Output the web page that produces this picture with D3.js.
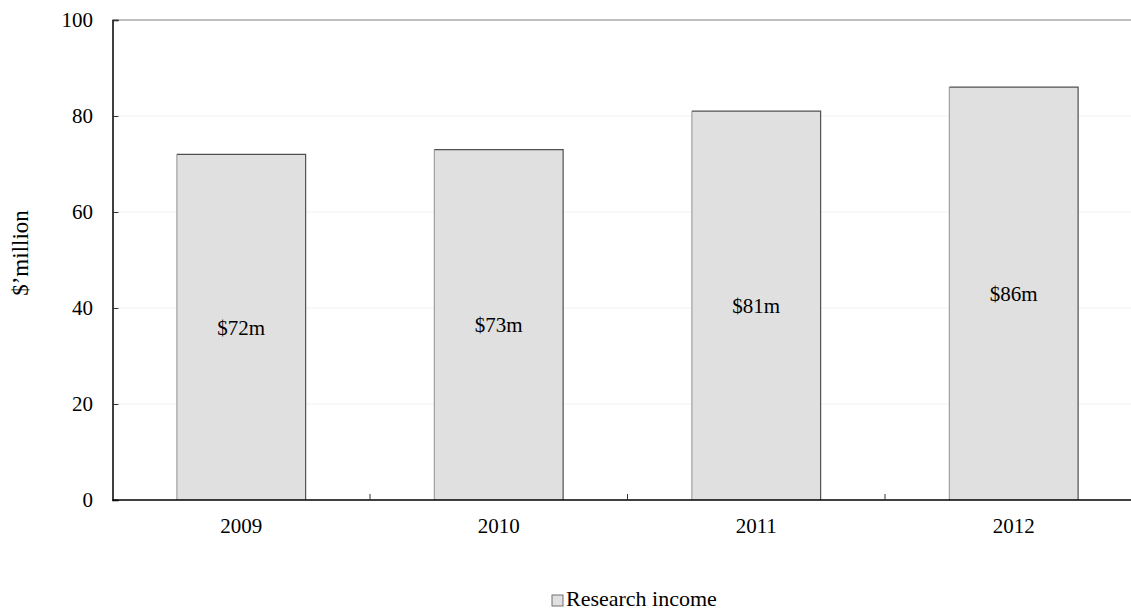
<!DOCTYPE html>
<html>
<head>
<meta charset="utf-8">
<script src="https://cdn.jsdelivr.net/npm/d3@7"></script>
<style>
  html, body { margin: 0; padding: 0; background: #fff; }
  svg { display: block; font-family: "Liberation Serif", "Times New Roman", Times, serif; }
</style>
</head>
<body>
<svg id="chart" width="1131" height="612" font-family="Liberation Serif, Times New Roman, serif"></svg>
<script>
// Research income by year, $ million
const years = ["2009", "2010", "2011", "2012"];
const income = [72, 73, 81, 86];
const valueLabels = ["$72m", "$73m", "$81m", "$86m"];
const yTicks = [0, 20, 40, 60, 80, 100];
const seriesName = "Research income";
const yTitle = "$’million";

const svg = d3.select("#chart");
const plotLeft = 112.5, plotRight = 1142.5, plotTop = 20, plotBottom = 500;

const x = d3.scaleBand().domain(years).range([plotLeft, plotRight]).paddingInner(0).paddingOuter(0);
const y = d3.scaleLinear().domain([0, 100]).range([plotBottom, plotTop]);

// faint horizontal gridlines
svg.append("g").selectAll("line")
  .data(yTicks.filter(t => t > 0 && t < 100))
  .join("line")
  .attr("x1", plotLeft).attr("x2", plotRight)
  .attr("y1", d => y(d)).attr("y2", d => y(d))
  .attr("stroke", "#f2f2f2").attr("stroke-width", 1);

// top border of plot area
svg.append("line")
  .attr("x1", plotLeft).attr("x2", plotRight)
  .attr("y1", y(100)).attr("y2", y(100))
  .attr("stroke", "#a8a8a8").attr("stroke-width", 1.5);

// bars: half the band width, centred
const barW = x.bandwidth() / 2;
const bars = svg.append("g").selectAll("g")
  .data(years.map((yr, i) => ({ yr, v: income[i], label: valueLabels[i] })))
  .join("g");

bars.append("rect")
  .attr("x", d => x(d.yr) + x.bandwidth() / 4)
  .attr("y", d => y(d.v))
  .attr("width", barW)
  .attr("height", d => y(0) - y(d.v))
  .attr("fill", "#e0e0e0");
// bar edges: light left side, darker top and right
bars.append("line")
  .attr("x1", d => x(d.yr) + x.bandwidth() / 4).attr("x2", d => x(d.yr) + x.bandwidth() / 4)
  .attr("y1", d => y(d.v)).attr("y2", y(0))
  .attr("stroke", "#a0a0a0").attr("stroke-width", 1.2);
bars.append("path")
  .attr("d", d => {
    const x0 = x(d.yr) + x.bandwidth() / 4, x1 = x0 + barW;
    return `M${x0},${y(d.v)}H${x1}V${y(0)}`;
  })
  .attr("fill", "none").attr("stroke", "#505050").attr("stroke-width", 1.2);

bars.append("text")
  .attr("x", d => x(d.yr) + x.bandwidth() / 2)
  .attr("y", d => (y(d.v) + y(0)) / 2)
  .attr("dy", "0.35em")
  .attr("text-anchor", "middle")
  .attr("font-size", 21)
  .attr("fill", "#000")
  .text(d => d.label);

// y axis with inward ticks
const yAxis = d3.axisRight(y).tickValues(yTicks).tickSize(6).tickFormat("");
const yg = svg.append("g").attr("transform", `translate(${plotLeft},0)`).call(yAxis);
yg.select(".domain").attr("stroke", "#000").attr("stroke-width", 1.5);
yg.selectAll(".tick line").attr("stroke", "#333");
svg.append("g").selectAll("text")
  .data(yTicks)
  .join("text")
  .attr("x", 93).attr("y", d => y(d)).attr("dy", "0.35em")
  .attr("text-anchor", "end").attr("font-size", 21).attr("fill", "#000")
  .text(d => d);

// x axis line and boundary ticks between categories
svg.append("line")
  .attr("x1", plotLeft).attr("x2", plotRight).attr("y1", plotBottom).attr("y2", plotBottom)
  .attr("stroke", "#000").attr("stroke-width", 1.5);
svg.append("g").selectAll("line")
  .data(years.slice(1))
  .join("line")
  .attr("x1", d => x(d)).attr("x2", d => x(d))
  .attr("y1", plotBottom).attr("y2", plotBottom - 6)
  .attr("stroke", "#333");
svg.append("g").selectAll("text")
  .data(years)
  .join("text")
  .attr("x", d => x(d) + x.bandwidth() / 2)
  .attr("y", 533)
  .attr("text-anchor", "middle").attr("font-size", 21).attr("fill", "#000")
  .text(d => d);

// y axis title
svg.append("text")
  .attr("transform", "translate(28,253) rotate(-90)")
  .attr("text-anchor", "middle").attr("font-size", 23).attr("fill", "#000")
  .text(yTitle);

// legend
const lg = svg.append("g");
lg.append("rect")
  .attr("x", 552).attr("y", 595).attr("width", 11).attr("height", 11)
  .attr("fill", "#e0e0e0").attr("stroke", "#707070").attr("stroke-width", 1);
lg.append("text")
  .attr("x", 566).attr("y", 606)
  .attr("font-size", 22).attr("fill", "#000")
  .text(seriesName);
</script>
</body>
</html>
